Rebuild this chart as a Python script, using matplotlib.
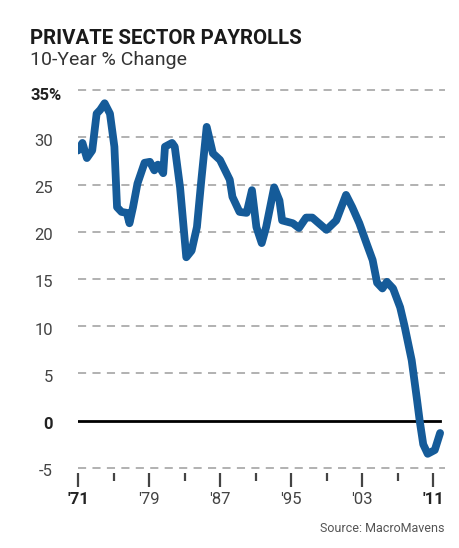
import numpy as np
import matplotlib
matplotlib.use("Agg")
import matplotlib.pyplot as plt

# 10-year % change in private payrolls
years = [1971.0, 1971.5, 1972.0, 1972.6, 1973.1, 1973.5, 1974.0, 1974.6, 1975.1, 1975.4,
         1975.9, 1976.5, 1976.8, 1977.2, 1977.7, 1978.5, 1979.1, 1979.6, 1980.0, 1980.6,
         1980.8, 1981.6, 1981.9, 1982.5, 1983.2, 1983.8, 1984.4, 1984.9, 1985.5, 1986.2,
         1987.0, 1988.1, 1988.4, 1989.2, 1990.0, 1990.6, 1991.1, 1991.7, 1992.2, 1993.1,
         1993.7, 1994.0, 1995.2, 1995.9, 1996.7, 1997.4, 1999.0, 2000.1, 2001.2, 2001.9,
         2002.7, 2003.5, 2004.2, 2004.7, 2005.3, 2005.8, 2006.5, 2007.3, 2007.8, 2008.6,
         2009.2, 2009.5, 2009.9, 2010.4, 2011.2, 2011.8]
pct_change = [28.6, 29.4, 27.8, 28.6, 32.5, 32.9, 33.6, 32.5, 29.0, 22.6,
              22.1, 22.0, 20.9, 22.6, 25.1, 27.3, 27.4, 26.5, 27.1, 26.2,
              29.0, 29.4, 29.0, 24.7, 17.3, 18.0, 20.5, 25.5, 31.1, 28.3,
              27.6, 25.5, 23.7, 22.1, 22.0, 24.4, 20.5, 18.8, 20.5, 24.7,
              23.3, 21.2, 20.9, 20.4, 21.5, 21.5, 20.2, 21.2, 23.9, 22.6,
              20.9, 18.8, 17.0, 14.6, 14.0, 14.7, 14.0, 12.0, 10.0, 6.4,
              2.2, 0.0, -2.5, -3.5, -3.1, -1.3]

ytick_vals = [35, 30, 25, 20, 15, 10, 5, 0, -5]
ytick_labels = ["35%", "30", "25", "20", "15", "10", "5", "0", "-5"]
xtick_major = [1971, 1979, 1987, 1995, 2003, 2011]
xtick_labels = ["'71", "'79", "'87", "'95", "'03", "'11"]
xtick_minor = [1975, 1983, 1991, 1999, 2007]

plt.rcParams['font.family'] = ['Roboto', 'DejaVu Sans']

W, H = 460, 548
fig = plt.figure(figsize=(W / 100, H / 100), dpi=100)

# axes: 1971 at x=78px, right edge 445px; 35 at y=90px, 9.45 px per unit
left_px, right_px = 78, 445
top_px, bot_px = 85.3, 472.7
ax = fig.add_axes([left_px / W, 1 - bot_px / H, (right_px - left_px) / W, (bot_px - top_px) / H])
ax.set_xlim(1971, 1971 + (right_px - left_px) / 8.875)
ax.set_ylim(-5.5, 35.5)

for v in ytick_vals:
    if v == 0:
        ax.plot([1971, 2011.8], [0, 0], color='black', lw=2, zorder=2)
    else:
        ax.axhline(v, color='#ababab', lw=1.3, ls=(0, (4.5, 3.5)), zorder=1)

ax.plot(years, pct_change, color='#155b99', lw=5.6, solid_capstyle='round',
        solid_joinstyle='round', zorder=3)

for s in ax.spines.values():
    s.set_visible(False)
ax.set_yticks([])
ax.set_xticks(xtick_major)
ax.set_xticklabels([])
ax.set_xticks(xtick_minor, minor=True)
ax.tick_params(axis='x', which='major', length=10, width=1.6, color='#444444', direction='out', pad=0)
ax.tick_params(axis='x', which='minor', length=5.5, width=1.6, color='#444444', direction='out', pad=0)

ytr = ax.get_yaxis_transform()
for v, lab in zip(ytick_vals, ytick_labels):
    if lab == "35%":
        ax.text((31 - left_px) / (right_px - left_px), v - 0.6, lab, transform=ytr, ha='left',
                va='center', fontsize=12, fontweight='bold', color='#222222')
    elif v == 0:
        ax.text((53 - left_px) / (right_px - left_px), v - 0.4, lab, transform=ytr, ha='right',
                va='center', fontsize=12, fontweight='bold', color='#222222')
    else:
        ax.text((53 - left_px) / (right_px - left_px), v - 0.4, lab, transform=ytr, ha='right',
                va='center', fontsize=12, color='#444444')

xtr = ax.get_xaxis_transform()
for i, (v, lab) in enumerate(zip(xtick_major, xtick_labels)):
    bold = i in (0, len(xtick_labels) - 1)
    ax.text(v, -(500 - bot_px) / (bot_px - top_px), lab, transform=xtr, ha='center', va='center',
            fontsize=12, fontweight='bold' if bold else 'normal',
            color='#222222' if bold else '#444444')

fig.text(30 / W, 1 - 44 / H, "PRIVATE SECTOR PAYROLLS", fontsize=14.7, fontweight='bold',
         color='#1a1a1a', va='baseline', ha='left')
fig.text(30 / W, 1 - 65 / H, "10-Year % Change", fontsize=14, color='#333333',
         va='baseline', ha='left')
fig.text(445 / W, 1 - 532 / H, "Source: MacroMavens", fontsize=9, color='#555555',
         va='baseline', ha='right')

fig.savefig("out.png", dpi=100, facecolor='white')
